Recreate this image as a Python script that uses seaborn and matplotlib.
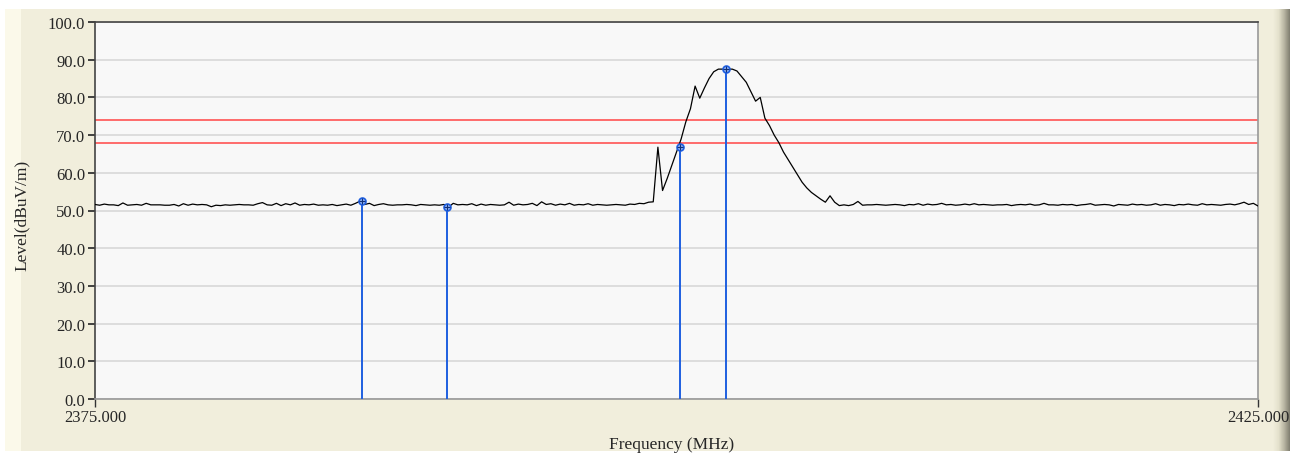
import numpy as np
import pandas as pd
import matplotlib.pyplot as plt
import seaborn as sns
from matplotlib.patches import Rectangle
from matplotlib.colors import LinearSegmentedColormap

# Sweep 2375-2425 MHz, one reading every 0.2 MHz
f_start = 2375.0
f_stop = 2425.0
level = [
    51.6, 51.4, 51.7, 51.5, 51.5, 51.3, 52.0, 51.4, 51.5, 51.6,
    51.4, 51.9, 51.5, 51.5, 51.5, 51.4, 51.4, 51.6, 51.2, 51.8,
    51.4, 51.7, 51.5, 51.6, 51.5, 51.0, 51.4, 51.3, 51.5, 51.4,
    51.5, 51.6, 51.5, 51.5, 51.4, 51.8, 52.1, 51.5, 51.4, 51.9,
    51.3, 51.8, 51.5, 52.0, 51.4, 51.6, 51.5, 51.7, 51.4, 51.5,
    51.4, 51.6, 51.3, 51.5, 51.7, 51.4, 51.9, 52.5, 51.6, 51.9,
    51.3, 51.6, 51.8, 51.5, 51.4, 51.5, 51.5, 51.6, 51.5, 51.3,
    51.6, 51.5, 51.4, 51.5, 51.4, 51.6, 50.9, 51.9, 51.5, 51.6,
    51.5, 51.8, 51.3, 51.7, 51.4, 51.6, 51.5, 51.4, 51.5, 52.2,
    51.4, 51.7, 51.5, 51.6, 51.9, 51.3, 52.3, 51.6, 51.8, 51.4,
    51.7, 51.5, 51.9, 51.4, 51.6, 51.5, 51.8, 51.4, 51.6, 51.5,
    51.4, 51.5, 51.6, 51.5, 51.4, 51.7, 51.6, 51.9, 51.8, 52.2,
    52.3, 66.8, 55.3, 58.5, 62.0, 65.5, 69.0, 73.5, 77.0, 83.0,
    79.8, 82.5, 85.0, 86.8, 87.5, 87.5, 87.5, 87.5, 87.0, 85.5,
    84.0, 81.5, 79.0, 80.0, 74.5, 72.5, 70.0, 68.0, 65.5, 63.5,
    61.5, 59.5, 57.5, 56.0, 54.8, 53.9, 53.0, 52.2, 53.9, 52.2,
    51.3, 51.5, 51.3, 51.6, 52.4, 51.4, 51.5, 51.5, 51.6, 51.5,
    51.4, 51.5, 51.6, 51.5, 51.3, 51.6, 51.5, 51.8, 51.4, 51.7,
    51.5, 51.6, 51.9, 51.5, 51.6, 51.4, 51.5, 51.7, 51.5, 51.8,
    51.5, 51.6, 51.5, 51.4, 51.5, 51.5, 51.6, 51.3, 51.5, 51.6,
    51.5, 51.7, 51.4, 51.5, 51.9, 51.5, 51.5, 51.4, 51.6, 51.5,
    51.6, 51.3, 51.5, 51.6, 51.8, 51.4, 51.5, 51.6, 51.5, 51.2,
    51.6, 51.5, 51.4, 51.7, 51.5, 51.6, 51.4, 51.5, 51.8, 51.4,
    51.6, 51.5, 51.3, 51.6, 51.5, 51.7, 51.5, 51.4, 51.8, 51.5,
    51.6, 51.5, 51.4, 51.6, 51.7, 51.5, 51.8, 52.2, 51.6, 51.9,
    51.2,
]

# Markers
marker_freq = [2386.46, 2390.12, 2400.14, 2402.12]
marker_level = [52.5, 50.9, 66.8, 87.5]

# Limit lines
limits = [74.0, 68.0]

df = pd.DataFrame({
    'Frequency': np.linspace(f_start, f_stop, len(level)),
    'Level': level,
})

sns.set_theme(style="whitegrid")
plt.rcParams['font.family'] = ['Liberation Serif', 'DejaVu Serif']

W, H = 1297, 460
fig = plt.figure(figsize=(W / 100, H / 100), dpi=100)
fig.patch.set_facecolor('white')

# window frame look
fig.patches.append(Rectangle((5 / W, 1 - 452 / H), (1274 - 5) / W, (452 - 10) / H,
                             transform=fig.transFigure, facecolor='#F1EEDC',
                             edgecolor='none', zorder=-10))
fig.patches.append(Rectangle((5 / W, 1 - 452 / H), 16 / W, (452 - 10) / H,
                             transform=fig.transFigure, facecolor='#FBF9EA',
                             edgecolor='none', zorder=-9))
gax = fig.add_axes([1273 / W, 1 - 452 / H, 17 / W, (452 - 10) / H])
cmap = LinearSegmentedColormap.from_list('edge', ['#F1EEDC', '#E4E1CC', '#B8B5A2', '#807E70'])
gax.imshow(np.linspace(0, 1, 64)[None, :], aspect='auto', cmap=cmap)
gax.axis('off')

ax = fig.add_axes([95 / W, 1 - 400 / H, (1258 - 95) / W, (400 - 23) / H])
ax.set_facecolor('#F8F8F8')

for lim in limits:
    ax.axhline(lim, color='#FF6B6B', lw=1.4, zorder=2)

sns.lineplot(data=df, x='Frequency', y='Level', color='black', lw=0.9, ax=ax, zorder=3)

for fx, fy in zip(marker_freq, marker_level):
    ax.plot([fx, fx], [0, fy], color='#1F5FE0', lw=1.4, zorder=4)
ax.plot(marker_freq, marker_level, 'o', ms=5, mfc='#8FB0F0', mec='#1F5FE0', mew=1.2, zorder=5)
ax.plot(marker_freq, marker_level, '+', ms=4, color='#10307A', mew=0.8, zorder=6)

ax.set_xlim(f_start, f_stop)
ax.set_ylim(0, 100)
ax.set_yticks(np.arange(0, 101, 10))
ax.set_yticklabels([f'{v:.1f}' for v in np.arange(0, 101, 10)])
ax.set_xticks([f_start, f_stop])
ax.set_xticklabels([f'{f_start:.3f}', f'{f_stop:.3f}'])
ax.grid(axis='y', color='#D8D8D8', lw=1.2)
ax.grid(axis='x', visible=False)
ax.tick_params(axis='y', direction='out', length=5, width=1.3, color='#333333',
               labelsize=12, pad=2, left=True)
ax.tick_params(axis='x', direction='out', length=6, width=1.0, color='#333333',
               labelsize=12, pad=1, bottom=True)
for s in ['left', 'top']:
    ax.spines[s].set_color('#444444')
    ax.spines[s].set_linewidth(1.2)
for s in ['right', 'bottom']:
    ax.spines[s].set_color('#999999')
    ax.spines[s].set_linewidth(1.2)
ax.set_xlabel('')
ax.set_ylabel('')

fig.text(672 / W, 1 - 445 / H, 'Frequency (MHz)', ha='center', va='center', fontsize=12.5)
fig.text(22 / W, 1 - 215 / H, 'Level(dBuV/m)', ha='center', va='center',
         rotation=90, fontsize=12.5)

plt.savefig('out.png', dpi=100)
